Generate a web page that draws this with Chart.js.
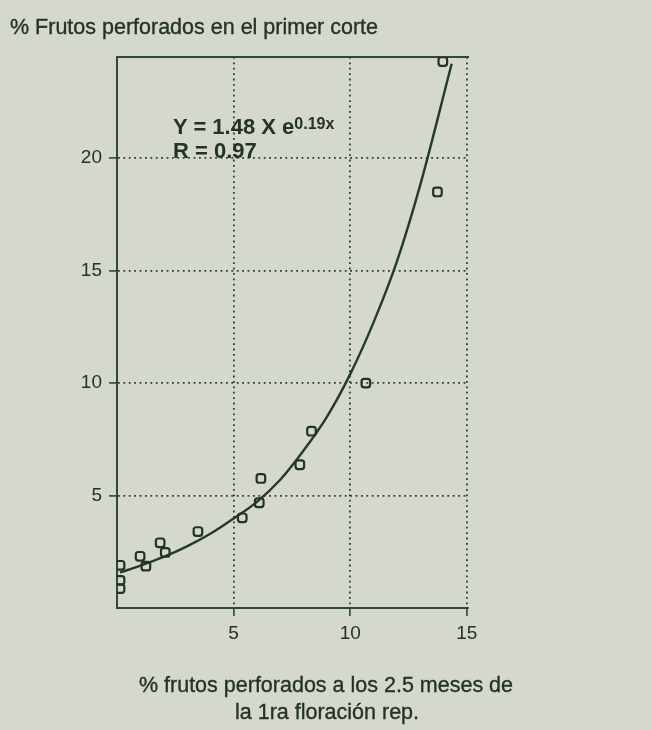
<!DOCTYPE html>
<html>
<head>
<meta charset="utf-8">
<script src="https://cdn.jsdelivr.net/npm/chart.js@4"></script>
<style>
body { margin: 0; background: #d5d8cd; }
#wrap { position: relative; width: 652px; height: 730px; font-family: "Liberation Sans", Arial, sans-serif; color: #22332a; }
canvas { position: absolute; left: 0; top: 0; }
.t { position: absolute; white-space: nowrap; line-height: 20px; font-size: 21.5px; -webkit-text-stroke: 0.35px #22332a; }
.c { transform: translateX(-50%); }
.b { font-weight: bold; font-size: 22px; -webkit-text-stroke: 0; }
sup { font-size: 16px; position: relative; top: -3px; vertical-align: top; }
</style>
</head>
<body>
<div id="wrap">
  <canvas id="myChart" width="652" height="730"></canvas>
  <div class="t" style="left:10px; top:17px;">% Frutos perforados en el primer corte</div>
  <div class="t b" style="left:173px; top:117px;">Y = 1.48 X e<sup>0.19x</sup></div>
  <div class="t b" style="left:173px; top:141px;">R = 0.97</div>
  <div class="t c" style="left:326px; top:675px;">% frutos perforados a los 2.5 meses de</div>
  <div class="t c" style="left:327px; top:702px;">la 1ra floración rep.</div>
</div>
<script>
// puntos observados
const puntosX = [0.13, 0.13, 0.13, 0.99, 1.24, 1.85, 2.07, 3.47, 5.37, 6.1, 6.17, 7.84, 8.34, 10.67, 13.74, 13.97];
const puntosY = [1.9, 1.23, 0.86, 2.3, 1.86, 2.9, 2.47, 3.4, 4.01, 4.68, 5.76, 6.37, 7.86, 10.0, 18.5, 24.3];

// curva ajustada
const curvaX = [0.13, 1, 2, 3, 4, 5, 6, 7, 8, 9, 10, 11, 12, 13, 14.35];
const curvaY = [1.58, 1.88, 2.27, 2.74, 3.3, 3.98, 4.72, 5.7, 7.0, 8.5, 10.4, 12.7, 15.4, 18.8, 24.2];

const ticksX = [5, 10, 15];
const ticksY = [5, 10, 15, 20];

const tinta = '#22332a';
const eje = '#2c4a35';

const puntos = puntosX.map((x, i) => ({ x: x, y: puntosY[i] }));
const curva = curvaX.map((x, i) => ({ x: x, y: curvaY[i] }));

function gridColor(ctx) {
  return ctx.tick && ctx.tick.value === 0 ? 'rgba(0,0,0,0)' : '#2e3f34';
}
function tickColor(ctx) {
  return ctx.tick && ctx.tick.value === 0 ? 'rgba(0,0,0,0)' : eje;
}

const ctx = document.getElementById('myChart');

new Chart(ctx, {
  type: 'scatter',
  data: {
    datasets: [
      {
        data: puntos,
        pointStyle: 'rectRounded',
        pointRadius: 5,
        borderColor: tinta,
        borderWidth: 2.2,
        backgroundColor: 'rgba(0,0,0,0)'
      },
      {
        data: curva,
        showLine: true,
        pointRadius: 0,
        borderColor: '#243a2c',
        borderWidth: 2.4,
        cubicInterpolationMode: 'monotone'
      }
    ]
  },
  options: {
    responsive: false,
    animation: false,
    layout: { padding: { left: 0, right: 184, top: 57, bottom: 0 } },
    plugins: { legend: { display: false }, tooltip: { enabled: false } },
    scales: {
      x: {
        type: 'linear',
        min: 0,
        max: 15.05,
        afterFit: s => { s.height = 122; },
        afterBuildTicks: s => { s.ticks = [0].concat(ticksX).map(v => ({ value: v })); },
        ticks: {
          color: tinta,
          font: { family: '"Liberation Sans", Arial', size: 19 },
          padding: 6,
          callback: v => (v === 0 ? '' : v)
        },
        grid: {
          color: gridColor,
          lineWidth: 1.8,
          tickLength: 8,
          tickColor: tickColor,
          tickBorderDash: [],
          tickWidth: 1.6
        },
        border: { color: eje, width: 2, dash: [1.8, 3.6] }
      },
      x2: {
        type: 'linear',
        position: 'top',
        min: 0,
        max: 15.05,
        afterFit: s => { s.height = 0; },
        ticks: { display: false },
        grid: { display: false },
        border: { color: eje, width: 2 }
      },
      y: {
        min: 0,
        max: 24.5,
        afterFit: s => { s.width = 117; },
        afterBuildTicks: s => { s.ticks = [0].concat(ticksY).map(v => ({ value: v })); },
        ticks: {
          color: tinta,
          font: { family: '"Liberation Sans", Arial', size: 19 },
          padding: 7,
          callback: v => (v === 0 ? '' : v)
        },
        grid: {
          color: gridColor,
          lineWidth: 1.8,
          tickLength: 8,
          tickColor: tickColor,
          tickBorderDash: [],
          tickWidth: 1.6
        },
        border: { color: eje, width: 2, dash: [1.8, 3.6] }
      }
    }
  }
});
</script>
</body>
</html>
